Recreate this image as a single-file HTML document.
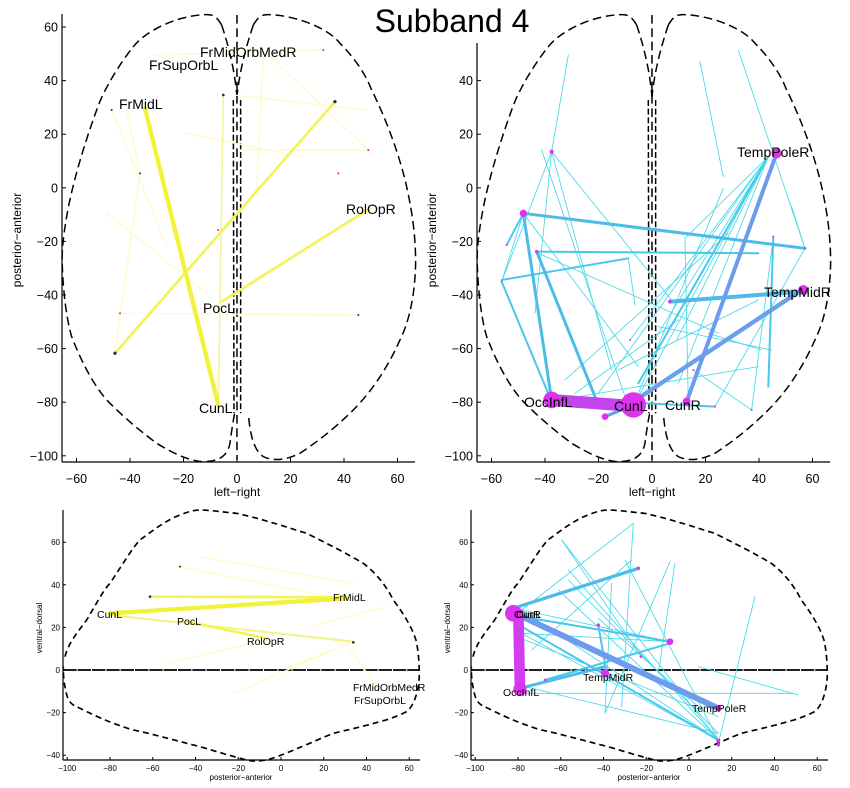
<!DOCTYPE html>
<html><head><meta charset="utf-8"><style>
html,body{margin:0;padding:0;background:#fff}
svg{display:block;font-family:"Liberation Sans",sans-serif}
</style></head><body>
<svg id="s" width="850" height="788" viewBox="0 0 850 788" xmlns="http://www.w3.org/2000/svg">
<rect width="850" height="788" fill="#fff"/>
<text x="452" y="32" font-size="32" text-anchor="middle">Subband 4</text>

<!-- TOP outlines -->
<g id="topout" transform="scale(0.3333)" fill="none" stroke="#000" stroke-width="4.5" stroke-dasharray="26,14">
<path d="M665,75 C650,50 640,42 615,44 C520,48 430,100 400,140 C360,190 310,270 290,330 C250,440 215,560 200,650 C188,720 185,760 187,800 C190,880 200,960 215,1010 C250,1100 290,1170 330,1210 C380,1260 430,1300 470,1330 C520,1360 560,1380 605,1385 C640,1385 680,1380 690,1330 C695,1290 700,1260 705,1235"/>
<path d="M760,75 C775,50 785,42 810,44 C900,48 990,90 1020,130 C1070,180 1100,230 1115,270 C1160,360 1200,470 1220,560 C1240,650 1247,720 1247,790 C1245,880 1230,960 1200,1020 C1160,1110 1110,1180 1060,1230 C1010,1280 960,1320 900,1360 C860,1380 820,1385 790,1370 C760,1350 750,1300 745,1240"/>
<path d="M711,45 L711,1380"/>
<path d="M665,75 C690,150 705,220 711,290 M760,75 C735,150 718,220 711,290"/>
<path d="M700,300 L702,1240 M722,300 L722,1240" stroke-dasharray="18,8"/>
</g>
<use href="#topout" transform="translate(415,0)"/>

<!-- BOTTOM outlines -->
<g id="botout" transform="translate(0,500) scale(0.3333)" fill="none" stroke="#000" stroke-width="5" stroke-dasharray="18,12">
<path d="M195,470 C205,430 230,400 260,360 C290,310 310,270 330,250 C370,190 400,140 420,120 C460,90 500,60 540,45 C570,32 590,30 605,30 C650,32 680,38 710,40 C800,60 870,85 920,100 C980,130 1040,160 1090,190 C1130,220 1160,260 1180,300 C1210,340 1235,380 1248,420 C1257,460 1258,500 1258,530 C1255,580 1240,620 1220,635 C1190,650 1160,660 1150,662 C1090,680 1040,690 1000,700 C950,720 920,735 900,742 C860,760 820,775 800,780 C770,785 750,783 740,780 C700,770 650,755 600,740 C520,720 450,700 400,690 C330,670 270,640 220,615 C205,605 200,590 195,560 C190,540 190,510 190,500"/>
<path d="M190,510 L1258,510" stroke-dasharray="40,3"/>
</g>
<use href="#botout" transform="translate(408,0)"/>

<!-- TOP-LEFT yellow -->
<g transform="scale(0.3333)" stroke-linecap="round" fill="none">
<g stroke="#fdfbc8" stroke-width="4">
<line x1="355" y1="940" x2="1075" y2="945"/><line x1="320" y1="640" x2="620" y2="880"/>
<line x1="335" y1="330" x2="500" y2="740"/><line x1="420" y1="520" x2="345" y2="1060"/>
<line x1="455" y1="165" x2="970" y2="150"/><line x1="770" y1="570" x2="790" y2="160"/>
<line x1="700" y1="285" x2="1105" y2="330"/><line x1="800" y1="160" x2="1105" y2="450"/>
<line x1="720" y1="450" x2="1110" y2="450"/><line x1="380" y1="330" x2="420" y2="520"/>
<line x1="560" y1="400" x2="900" y2="470"/>
</g>
<line x1="670" y1="285" x2="655" y2="1215" stroke="#f5f3a0" stroke-width="5"/>
<line x1="345" y1="1060" x2="1005" y2="305" stroke="#f3f35a" stroke-width="8"/>
<line x1="665" y1="905" x2="1110" y2="625" stroke="#f3f35a" stroke-width="8"/>
<line x1="435" y1="325" x2="655" y2="1215" stroke="#f2f23a" stroke-width="13"/>
<g fill="#333"><circle cx="345" cy="1060" r="5"/><circle cx="1005" cy="305" r="5"/><circle cx="670" cy="285" r="4"/><circle cx="420" cy="520" r="3"/><circle cx="1075" cy="945" r="3"/><circle cx="335" cy="330" r="3"/></g>
<g fill="#e33"><circle cx="655" cy="690" r="3"/><circle cx="1105" cy="450" r="3"/><circle cx="970" cy="150" r="3"/><circle cx="1015" cy="520" r="3"/><circle cx="360" cy="940" r="3"/></g>
</g>
<g font-size="14" fill="#000">
<text x="200" y="57">FrMidOrbMedR</text><text x="149" y="70">FrSupOrbL</text>
<text x="119" y="109">FrMidL</text><text x="346" y="214">RolOpR</text>
<text x="203" y="313">PocL</text><text x="199" y="413">CunL</text>
</g>

<!-- TOP-RIGHT cyan -->
<g transform="translate(425,0) scale(0.3333)" stroke-linecap="round" fill="none">
<g stroke="#40d8e8" stroke-width="2.5">
<line x1="380" y1="455" x2="430" y2="165"/><line x1="825" y1="185" x2="895" y2="530"/>
<line x1="940" y1="150" x2="1140" y2="745"/><line x1="380" y1="455" x2="560" y2="1110"/>
<line x1="380" y1="455" x2="330" y2="940"/><line x1="350" y1="450" x2="600" y2="1190"/>
<line x1="230" y1="845" x2="380" y2="455"/><line x1="230" y1="845" x2="295" y2="640"/>
<line x1="1030" y1="470" x2="615" y2="1020"/><line x1="1030" y1="470" x2="700" y2="1000"/>
<line x1="1030" y1="470" x2="760" y2="1150"/><line x1="1030" y1="470" x2="640" y2="1190"/>
<line x1="1030" y1="470" x2="755" y2="1020"/><line x1="1030" y1="470" x2="780" y2="715"/>
<line x1="895" y1="565" x2="640" y2="1180"/><line x1="1045" y1="710" x2="980" y2="1230"/>
<line x1="1100" y1="620" x2="1140" y2="745"/><line x1="1010" y1="1050" x2="850" y2="1000"/>
<line x1="805" y1="1110" x2="980" y2="1230"/><line x1="610" y1="775" x2="630" y2="915"/>
<line x1="450" y1="1180" x2="760" y2="960"/><line x1="420" y1="1140" x2="910" y2="700"/>
<line x1="380" y1="455" x2="740" y2="900"/><line x1="295" y1="640" x2="640" y2="1100"/>
<line x1="1140" y1="745" x2="870" y2="1220"/><line x1="340" y1="760" x2="880" y2="1000"/>
<line x1="580" y1="1110" x2="1000" y2="900"/><line x1="1030" y1="470" x2="520" y2="1180"/>
<line x1="1130" y1="870" x2="700" y2="1150"/><line x1="780" y1="715" x2="790" y2="1210"/>
<line x1="460" y1="1190" x2="1000" y2="1100"/><line x1="700" y1="980" x2="1040" y2="1050"/>
</g>
<g stroke="#48c8ec" stroke-width="6">
<line x1="335" y1="755" x2="1000" y2="760"/><line x1="230" y1="840" x2="610" y2="775"/>
<line x1="1045" y1="710" x2="1030" y2="1160"/><line x1="870" y1="1220" x2="660" y2="1210"/>
<line x1="295" y1="640" x2="245" y2="735"/><line x1="230" y1="845" x2="380" y2="1205"/>
<line x1="1030" y1="470" x2="640" y2="1150"/>
</g>
<g stroke="#4cbce8" stroke-width="9">
<line x1="295" y1="640" x2="1140" y2="745"/><line x1="295" y1="640" x2="380" y2="1200"/>
<line x1="335" y1="755" x2="510" y2="1190"/>
</g>
<line x1="735" y1="905" x2="1130" y2="875" stroke="#52b8ea" stroke-width="12"/>
<line x1="640" y1="1195" x2="1130" y2="870" stroke="#6aa0ea" stroke-width="13"/>
<line x1="785" y1="1205" x2="1055" y2="460" stroke="#6d9bee" stroke-width="12"/>
<line x1="380" y1="1200" x2="625" y2="1218" stroke="#c444ec" stroke-width="36"/>
<line x1="540" y1="1250" x2="625" y2="1215" stroke="#6aa0ea" stroke-width="10"/>
<g fill="#dd33ee">
<circle cx="625" cy="1215" r="38"/><circle cx="380" cy="1200" r="25"/>
<circle cx="1055" cy="460" r="15"/><circle cx="1135" cy="870" r="15"/>
<circle cx="295" cy="640" r="11"/><circle cx="785" cy="1205" r="12"/>
<circle cx="540" cy="1250" r="10"/><circle cx="380" cy="455" r="6"/>
<circle cx="335" cy="755" r="5"/><circle cx="735" cy="905" r="5"/>
<circle cx="245" cy="735" r="3"/><circle cx="230" cy="845" r="3"/>
<circle cx="615" cy="1020" r="3"/><circle cx="1045" cy="710" r="3"/>
<circle cx="1140" cy="745" r="3"/><circle cx="805" cy="1110" r="3"/>
<circle cx="870" cy="1220" r="3"/><circle cx="980" cy="1230" r="3"/>
</g>
</g>
<g font-size="14" fill="#000">
<text x="737" y="157">TempPoleR</text><text x="764" y="297">TempMidR</text>
<text x="524" y="407">OccInfL</text><text x="614" y="411">CunL</text>
<text x="665" y="410">CunR</text>
</g>

<!-- BOTTOM-LEFT yellow -->
<g transform="translate(0,500) scale(0.3333)" stroke-linecap="round" fill="none">
<g stroke="#fdfbc8" stroke-width="4">
<line x1="1060" y1="425" x2="700" y2="580"/><line x1="1060" y1="425" x2="870" y2="500"/>
<line x1="1150" y1="590" x2="1040" y2="430"/><line x1="540" y1="200" x2="1040" y2="300"/>
<line x1="930" y1="380" x2="1160" y2="320"/><line x1="600" y1="170" x2="1060" y2="250"/>
<line x1="500" y1="490" x2="800" y2="420"/>
</g>
<line x1="330" y1="345" x2="1060" y2="425" stroke="#f3f380" stroke-width="6"/>
<line x1="560" y1="365" x2="800" y2="415" stroke="#f3f35a" stroke-width="8"/>
<line x1="450" y1="290" x2="1040" y2="292" stroke="#f3f35a" stroke-width="8"/>
<line x1="330" y1="340" x2="1040" y2="295" stroke="#f2f23a" stroke-width="13"/>
<g fill="#333"><circle cx="450" cy="290" r="4"/><circle cx="1060" cy="427" r="4"/><circle cx="540" cy="200" r="3"/></g>
</g>
<g font-size="10.5" fill="#000">
<text x="97" y="618">CunL</text><text x="177" y="625">PocL</text>
<text x="247" y="645">RolOpR</text><text x="333" y="601">FrMidL</text>
<text x="353" y="691">FrMidOrbMedR</text><text x="354" y="704">FrSupOrbL</text>
</g>

<!-- BOTTOM-RIGHT cyan -->
<g transform="translate(425,500) scale(0.3333)" stroke-linecap="round" fill="none">
<g stroke="#40d8e8" stroke-width="2.5">
<line x1="880" y1="720" x2="410" y2="120"/><line x1="880" y1="720" x2="290" y2="330"/>
<line x1="880" y1="720" x2="430" y2="210"/><line x1="880" y1="720" x2="600" y2="180"/>
<line x1="880" y1="720" x2="290" y2="400"/><line x1="625" y1="70" x2="590" y2="620"/>
<line x1="625" y1="70" x2="290" y2="330"/><line x1="735" y1="185" x2="540" y2="640"/>
<line x1="290" y1="330" x2="735" y2="425"/><line x1="735" y1="425" x2="290" y2="400"/>
<line x1="990" y1="290" x2="880" y2="730"/><line x1="820" y1="500" x2="1120" y2="585"/>
<line x1="1105" y1="580" x2="300" y2="580"/><line x1="400" y1="270" x2="880" y2="720"/>
<line x1="520" y1="355" x2="820" y2="620"/><line x1="750" y1="190" x2="700" y2="520"/>
<line x1="430" y1="240" x2="880" y2="700"/><line x1="300" y1="420" x2="880" y2="650"/>
<line x1="320" y1="450" x2="620" y2="180"/><line x1="410" y1="120" x2="650" y2="470"/>
<line x1="300" y1="560" x2="880" y2="700"/><line x1="560" y1="250" x2="540" y2="640"/>
</g>
<g stroke="#48c8ec" stroke-width="6">
<line x1="290" y1="350" x2="735" y2="425"/><line x1="290" y1="380" x2="880" y2="720"/>
<line x1="520" y1="375" x2="545" y2="520"/><line x1="360" y1="540" x2="735" y2="430"/>
</g>
<line x1="280" y1="320" x2="640" y2="205" stroke="#4cbce8" stroke-width="10"/>
<line x1="285" y1="565" x2="540" y2="500" stroke="#4cbce8" stroke-width="9"/>
<line x1="270" y1="340" x2="880" y2="625" stroke="#6d9bee" stroke-width="18"/>
<line x1="280" y1="340" x2="285" y2="570" stroke="#d43cf0" stroke-width="32"/>
<g fill="#dd33ee">
<circle cx="265" cy="340" r="25"/><circle cx="285" cy="568" r="20"/>
<circle cx="540" cy="520" r="12"/><circle cx="735" cy="425" r="10"/>
<circle cx="880" cy="625" r="10"/><circle cx="640" cy="205" r="5"/>
<circle cx="880" cy="722" r="6"/><circle cx="880" cy="735" r="5"/>
<circle cx="520" cy="375" r="5"/><circle cx="360" cy="540" r="4"/><circle cx="648" cy="470" r="4"/>
</g>
</g>
<g font-size="10.5" fill="#000">
<text x="514" y="618">CunR</text><text x="516" y="618">CunL</text>
<text x="503" y="696">OccInfL</text><text x="583" y="681">TempMidR</text>
<text x="692" y="712">TempPoleR</text>
</g>

<g id="axes" font-size="12.5"></g>
</svg>
<script>
(function(){
var ns="http://www.w3.org/2000/svg",g=document.getElementById("axes");
function el(t,a,txt){var e=document.createElementNS(ns,t);for(var k in a)e.setAttribute(k,a[k]);if(txt!=null)e.textContent=txt;g.appendChild(e);return e;}
function lbl(v){return v<0?"\u2212"+(-v):""+v;}
function topPanel(ox,y0){
  var L=62+ox,B=462,R=415+ox;
  el("line",{x1:L,y1:y0,x2:L,y2:B,stroke:"#000","stroke-width":1.2});
  el("line",{x1:L,y1:B,x2:R,y2:B,stroke:"#000","stroke-width":1.2});
  for(var x=-60;x<=60;x+=20){var px=237+ox+2.675*x;
    el("line",{x1:px,y1:B,x2:px,y2:B-4,stroke:"#000"});
    el("text",{x:px,y:483,"text-anchor":"middle","font-size":12.5},lbl(x));}
  for(var y=60;y>=-100;y-=20){var py=27+(60-y)*2.68; if(py<y0)continue;
    el("line",{x1:L,y1:py,x2:L+4,y2:py,stroke:"#000"});
    el("text",{x:L-4,y:py+4.5,"text-anchor":"end","font-size":12.5},lbl(y));}
  el("text",{x:237+ox,y:496,"text-anchor":"middle","font-size":12},"left\u2212right");
  el("text",{x:0,y:0,"text-anchor":"middle","font-size":12,transform:"translate("+(21+ox)+",240) rotate(-90)"},"posterior\u2212anterior");
}
function botPanel(ox){
  var L=63+ox,B=760,R=420+ox;
  el("line",{x1:L,y1:510,x2:L,y2:B,stroke:"#000","stroke-width":1.2});
  el("line",{x1:L,y1:B,x2:R,y2:B,stroke:"#000","stroke-width":1.2});
  for(var x=-100;x<=60;x+=20){var px=281+ox+2.1375*x;
    el("line",{x1:px,y1:B,x2:px,y2:B-3,stroke:"#000"});
    el("text",{x:px,y:771,"text-anchor":"middle","font-size":8},lbl(x));}
  for(var z=60;z>=-40;z-=20){var py=670-2.13*z;
    el("line",{x1:L,y1:py,x2:L+3,y2:py,stroke:"#000"});
    el("text",{x:L-3,y:py+3,"text-anchor":"end","font-size":8},lbl(z));}
  el("text",{x:241+ox,y:780,"text-anchor":"middle","font-size":8},"posterior\u2212anterior");
  el("text",{x:0,y:0,"text-anchor":"middle","font-size":8,transform:"translate("+(42+ox)+",628) rotate(-90)"},"ventral\u2212dorsal");
}
topPanel(0,14);topPanel(415,43);botPanel(0);botPanel(408);
})();
</script>
</body></html>
